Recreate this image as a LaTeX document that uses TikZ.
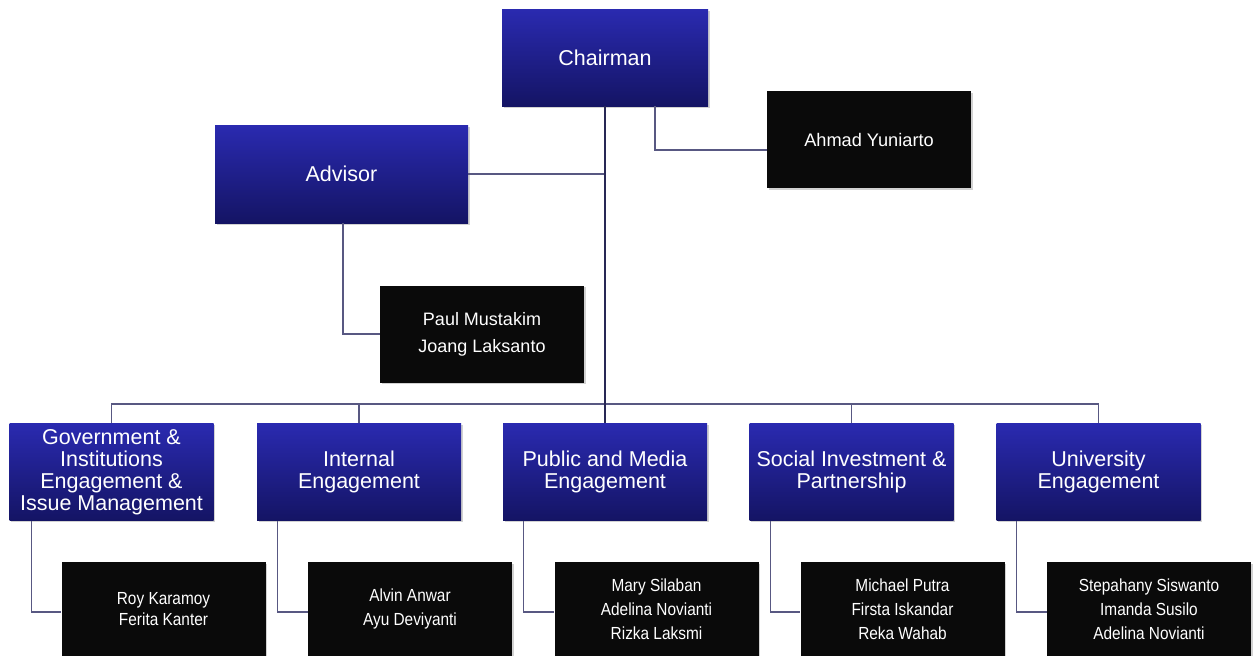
\documentclass[tikz,border=0pt]{standalone}
\usepackage{fontspec}
\setmainfont{Liberation Sans}
\newfontfamily\narrowfont{Liberation Sans}[FakeStretch=0.88]
\usetikzlibrary{shadows}
\definecolor{bluetop}{RGB}{42,42,176}
\definecolor{bluemid}{RGB}{32,32,150}
\definecolor{bluebot}{RGB}{20,20,100}
\definecolor{boxblack}{RGB}{10,10,10}
\definecolor{linec}{RGB}{88,88,130}
\definecolor{trunkc}{RGB}{40,40,85}
\begin{document}
\begin{tikzpicture}[x=1pt,y=-1pt,
  bluebox/.style={rectangle, minimum width=204pt, minimum height=97pt, inner sep=0pt,
    top color=bluetop, middle color=bluemid, bottom color=bluebot, text=white, align=center,
    font=\fontsize{21.5}{22}\selectfont,
    drop shadow={opacity=0.35, shadow xshift=1.5pt, shadow yshift=-1.5pt}},
  blackbox/.style={rectangle, fill=boxblack, minimum width=204pt, minimum height=97pt, inner sep=0pt,
    text=white, align=center,
    drop shadow={opacity=0.35, shadow xshift=1.5pt, shadow yshift=-1.5pt}},
  namefont/.style={font=\narrowfont\fontsize{17.5}{24}\selectfont},
  conn/.style={draw=linec, line width=1.2pt},
  trunk/.style={draw=trunkc, line width=1.8pt}]
\useasboundingbox (0,0) rectangle (1256,656);
\fill[white] (0,0) rectangle (1256,656);

% top level
\node[bluebox, minimum width=206pt] (chair) at (605,57.5) {Chairman};
\node[blackbox, font=\fontsize{18.2}{20}\selectfont] (ahmad) at (869,139.5) {Ahmad Yuniarto};
\node[bluebox, minimum width=253pt, minimum height=98pt] (adv) at (341.5,174) {Advisor};
\node[blackbox, font=\fontsize{18}{27}\selectfont] (paul) at (482,334) {Paul Mustakim\\Joang Laksanto};

% departments
\node[bluebox] (gov) at (111.5,472) {Government \&\\Institutions\\Engagement \&\\Issue Management};
\node[bluebox] (int) at (359,472) {Internal\\Engagement};
\node[bluebox] (pub) at (605,472) {Public and Media\\Engagement};
\node[bluebox] (soc) at (851.5,472) {Social Investment \&\\Partnership};
\node[bluebox] (uni) at (1098.5,472) {University\\Engagement};

% members
\node[blackbox, minimum height=94pt, font=\narrowfont\fontsize{17.5}{21}\selectfont] (roy) at (163.5,609) {Roy Karamoy\\Ferita Kanter};
\node[blackbox, minimum height=94pt, namefont] (alvin) at (410,609) {Alvin Anwar\\Ayu Deviyanti};
\node[blackbox, minimum height=94pt, namefont] (mary) at (656.5,609) {Mary Silaban\\Adelina Novianti\\Rizka Laksmi};
\node[blackbox, minimum height=94pt, namefont] (mich) at (902.5,609) {Michael Putra\\Firsta Iskandar\\Reka Wahab};
\node[blackbox, minimum height=94pt, namefont] (steph) at (1149,609) {Stepahany Siswanto\\Imanda Susilo\\Adelina Novianti};

\coordinate (bus) at (605,404);

% connectors
\draw[conn] (adv.east) -- (adv.east -| bus);
\draw[conn] ([xshift=50pt]chair.south) |- ([yshift=-10.5pt]ahmad.west);
\draw[conn] ([xshift=1.5pt]adv.south) |- (paul.west);
\draw[conn] (gov.north) |- (bus) -| (uni.north);
\draw[conn] (int.north) -- (int.north |- bus);
\draw[conn] (soc.north) -- (soc.north |- bus);
\draw[trunk] (chair.south) -- (pub.north);

\draw[conn] ([xshift=22pt]gov.south west) |- ([yshift=-3pt]roy.west);
\draw[conn] ([xshift=21pt]int.south west) |- ([yshift=-3pt]alvin.west);
\draw[conn] ([xshift=21pt]pub.south west) |- ([yshift=-3pt]mary.west);
\draw[conn] ([xshift=21pt]soc.south west) |- ([yshift=-3pt]mich.west);
\draw[conn] ([xshift=20pt]uni.south west) |- ([yshift=-3pt]steph.west);
\end{tikzpicture}
\end{document}
